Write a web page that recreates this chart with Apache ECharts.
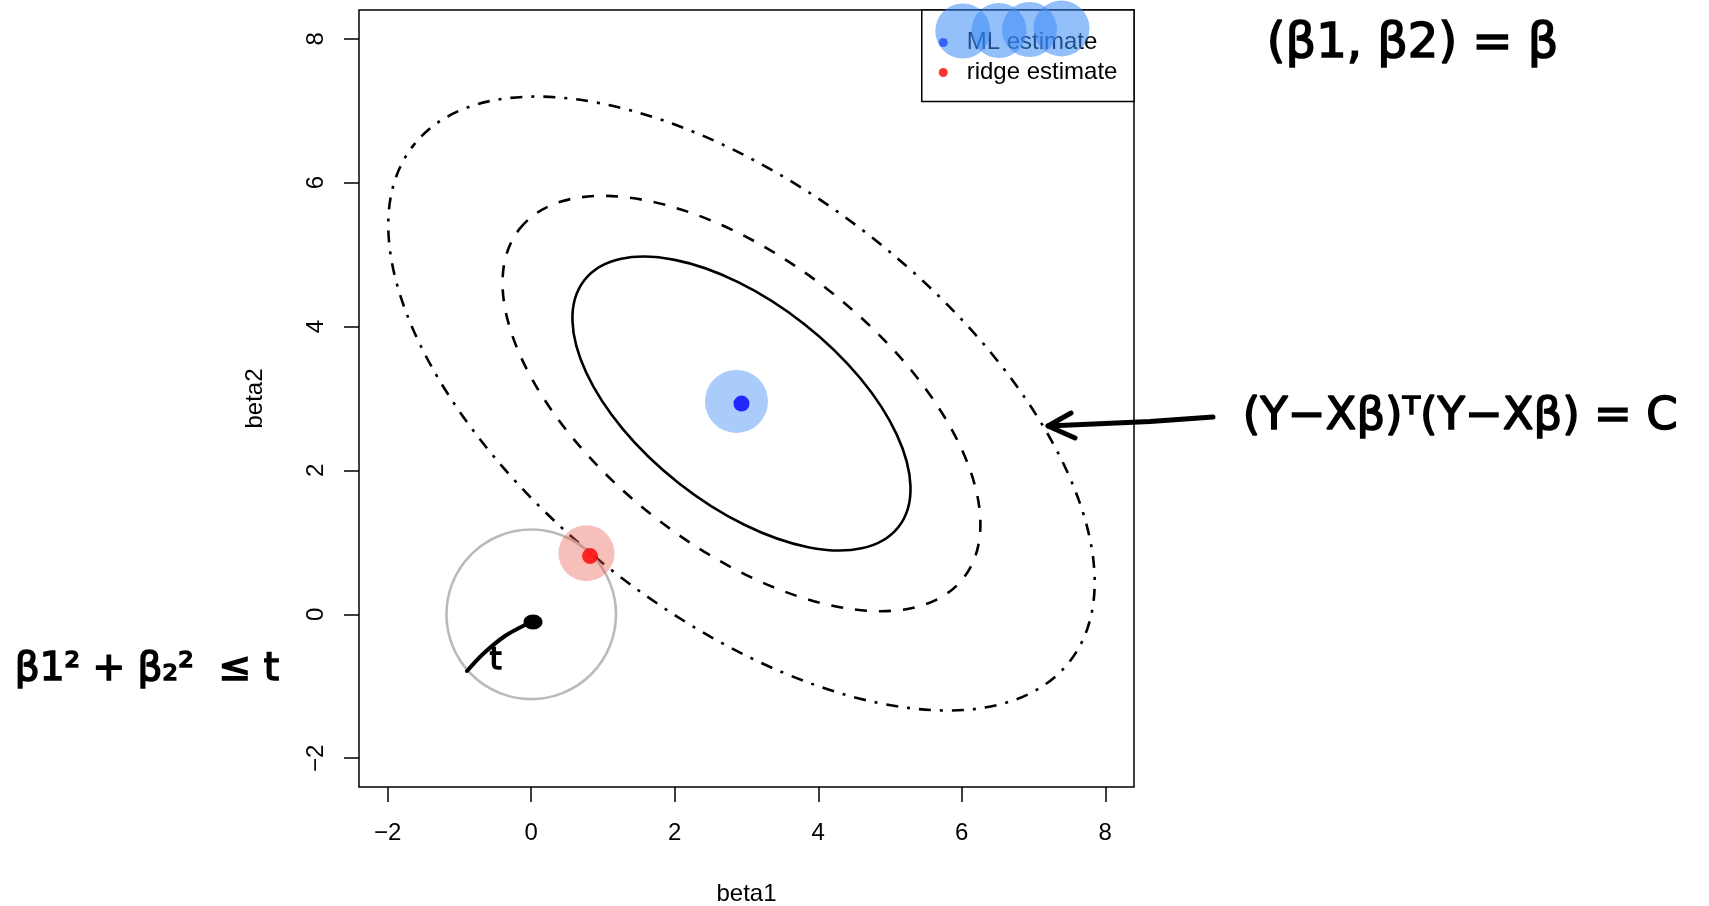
<!DOCTYPE html>
<html>
<head>
<meta charset="utf-8">
<script src="https://cdn.jsdelivr.net/npm/echarts@6/dist/echarts.min.js"></script>
<style>
html,body{margin:0;padding:0;background:#fff;}
#chart{width:1709px;height:906px;}
</style>
</head>
<body>
<div id="chart"></div>
<script>
// ---- data ----
const xTicks = [-2, 0, 2, 4, 6, 8];
const yTicks = [-2, 0, 2, 4, 6, 8];
const xRange = [-2.4, 8.4];
const yRange = [-2.4, 8.4];
const seriesNames = ['ML estimate', 'ridge estimate'];
const mlEstimate = [2.93, 2.93];
const ridgeEstimate = [0.82, 0.81];
// RSS contours: ellipses centred on the ML estimate
const contourCenter = [2.93, 2.93];
const contourSemiMajor = [2.78, 3.93, 5.81];
const contourSemiMinor = [1.41, 1.99, 2.94];
const contourAngleDeg = [-38.2, -38.2, -38.2];
// constraint region beta1^2 + beta2^2 <= t
const constraintCenter = [0, 0];
const constraintRadius = [1.18];
// hand-drawn highlight blobs (centres)
const mlHighlight = [2.86, 2.96];
const ridgeHighlight = [0.77, 0.85];

// ---- styles ----
const dashStyles = [null, [12, 12], [3, 9, 12, 9]];
const FONT = 'Liberation Sans';

const chart = echarts.init(document.getElementById('chart'), null, {renderer: 'canvas'});
const minus = v => String(v).replace('-', '\u2212');
const hand = (size) => ({font: size + 'px "DejaVu Sans"', fill: '#000', stroke: '#000', lineWidth: 1.6});

const option = {
  animation: false,
  backgroundColor: '#fff',
  grid: {left: 359, top: 10, width: 775, height: 777, show: true, outerBoundsMode: 'none', containLabel: false,
         borderColor: '#000', borderWidth: 1.5, backgroundColor: 'transparent'},
  xAxis: {
    type: 'value', min: xRange[0], max: xRange[1],
    splitLine: {show: false}, axisLine: {show: false, onZero: false},
    axisTick: {show: true, length: 15, customValues: xTicks, lineStyle: {color: '#000', width: 1.5}},
    axisLabel: {customValues: xTicks, margin: 34, fontSize: 24, color: '#000', fontFamily: FONT, formatter: minus},
    name: 'beta1', nameLocation: 'middle', nameGap: 95,
    nameTextStyle: {fontSize: 24, color: '#000', fontFamily: FONT}
  },
  yAxis: {
    type: 'value', min: yRange[0], max: yRange[1],
    splitLine: {show: false}, axisLine: {show: false, onZero: false},
    axisTick: {show: true, length: 15, customValues: yTicks, lineStyle: {color: '#000', width: 1.5}},
    axisLabel: {customValues: yTicks, margin: 31, rotate: 90, fontSize: 24, color: '#000', fontFamily: FONT, formatter: minus},
    name: 'beta2', nameLocation: 'middle', nameGap: 92, nameRotate: 90,
    nameTextStyle: {fontSize: 24, color: '#000', fontFamily: FONT}
  },
  legend: {
    data: seriesNames, orient: 'vertical', right: 575, top: 10,
    padding: [20.5, 16.6, 17, 17], itemGap: 6, itemWidth: 36.8, itemHeight: 9,
    icon: 'circle', backgroundColor: '#fff', borderColor: '#000', borderWidth: 1.5, borderRadius: 0,
    textStyle: {fontSize: 24, color: '#000', fontFamily: FONT},
    selectedMode: false, z: 10
  },
  series: [
    {
      type: 'custom', name: 'contours', silent: true, z: 2,
      data: contourSemiMajor.map((a, i) => [contourCenter[0], contourCenter[1], a, contourSemiMinor[i], contourAngleDeg[i], i]),
      renderItem: function (params, api) {
        const c = api.coord([api.value(0), api.value(1)]);
        const u = api.size([1, 1]);
        const unit = (u[0] + u[1]) / 2;
        const idx = api.value(5);
        return {
          type: 'ellipse', x: c[0], y: c[1], rotation: api.value(4) * Math.PI / 180,
          shape: {cx: 0, cy: 0, rx: api.value(2) * unit, ry: api.value(3) * unit},
          style: {fill: 'none', stroke: '#000', lineWidth: 2.6, lineDash: dashStyles[idx]}
        };
      }
    },
    {
      type: 'custom', name: 'constraint', silent: true, z: 2,
      data: constraintRadius.map(r => [constraintCenter[0], constraintCenter[1], r]),
      renderItem: function (params, api) {
        const c = api.coord([api.value(0), api.value(1)]);
        const u = api.size([1, 1]);
        const unit = (u[0] + u[1]) / 2;
        return {
          type: 'circle', shape: {cx: c[0], cy: c[1], r: api.value(2) * unit},
          style: {fill: 'none', stroke: '#bababa', lineWidth: 2.6}
        };
      }
    },
    {
      type: 'scatter', name: 'ml highlight', silent: true, z: 3,
      data: [mlHighlight], symbolSize: 63,
      itemStyle: {color: 'rgba(59,139,245,0.55)'}
    },
    {
      type: 'scatter', name: 'ridge highlight', silent: true, z: 3,
      data: [ridgeHighlight], symbolSize: 56,
      itemStyle: {color: 'rgba(235,95,80,0.5)'}
    },
    {
      type: 'scatter', name: seriesNames[0], z: 4,
      data: [mlEstimate], symbolSize: 16, itemStyle: {color: '#0000ff'}
    },
    {
      type: 'scatter', name: seriesNames[1], z: 4,
      data: [ridgeEstimate], symbolSize: 16, itemStyle: {color: '#ff0000'}
    }
  ],
  graphic: [
    // highlight blobs over the legend
    {type: 'circle', shape: {cx: 962.8, cy: 31, r: 27.5}, style: {fill: 'rgba(59,139,245,0.55)'}, z: 100, silent: true},
    {type: 'circle', shape: {cx: 999, cy: 30.5, r: 27.5}, style: {fill: 'rgba(59,139,245,0.55)'}, z: 100, silent: true},
    {type: 'circle', shape: {cx: 1029.5, cy: 29.5, r: 27.5}, style: {fill: 'rgba(59,139,245,0.55)'}, z: 100, silent: true},
    {type: 'circle', shape: {cx: 1061.5, cy: 28.5, r: 28}, style: {fill: 'rgba(59,139,245,0.55)'}, z: 100, silent: true},
    // handwritten notes
    {type: 'text', left: 1266, top: 20, z: 100, silent: true,
     style: Object.assign({text: '(β1, β2) = β'}, hand(48))},
    {type: 'text', left: 1242, top: 394, z: 100, silent: true,
     style: Object.assign({text: '(Y\u2212Xβ)\u1D40(Y\u2212Xβ) = C'}, hand(45))},
    {type: 'text', left: 14, top: 650, z: 100, silent: true,
     style: Object.assign({text: 'β1\u00B2 + β\u2082\u00B2  \u2264 t'}, hand(39))},
    // arrow
    {type: 'polyline', z: 100, silent: true,
     shape: {points: [[1213, 417], [1150, 421.5], [1048, 426]]},
     style: {stroke: '#000', lineWidth: 5, fill: 'none', lineCap: 'round'}},
    {type: 'polyline', z: 100, silent: true,
     shape: {points: [[1071, 413], [1048, 426], [1075, 438]]},
     style: {stroke: '#000', lineWidth: 5, fill: 'none', lineCap: 'round', lineJoin: 'round'}},
    // radius t inside the circle
    {type: 'ellipse', z: 100, silent: true, shape: {cx: 533, cy: 622, rx: 9.5, ry: 7.5}, style: {fill: '#000'}},
    {type: 'polyline', z: 100, silent: true,
     shape: {points: [[527, 624], [505, 636], [483, 654], [467, 671]], smooth: 0.3},
     style: {stroke: '#000', lineWidth: 4, fill: 'none', lineCap: 'round'}},
    {type: 'text', left: 489, top: 645, z: 100, silent: true,
     style: Object.assign({text: 't'}, hand(30))}
  ]
};
chart.setOption(option);
</script>
</body>
</html>
